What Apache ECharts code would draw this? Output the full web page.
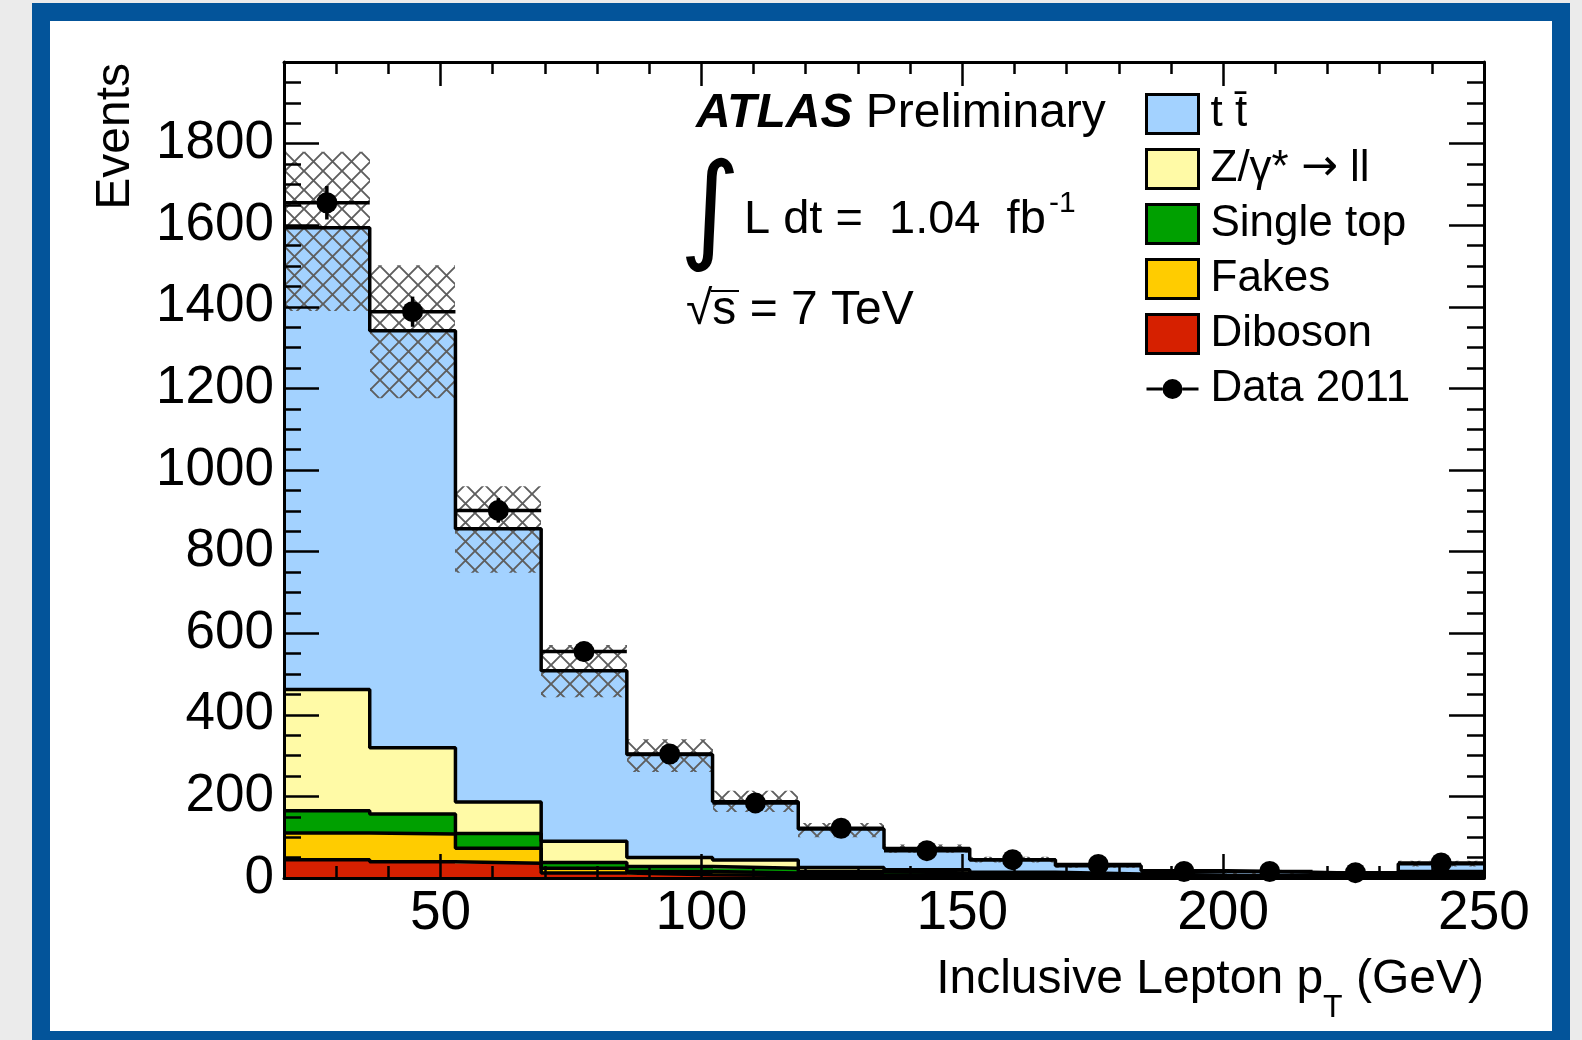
<!DOCTYPE html>
<html><head><meta charset="utf-8">
<script src="https://cdn.jsdelivr.net/npm/echarts@6/dist/echarts.min.js"></script>
<style>
html,body{margin:0;padding:0;width:1582px;height:1040px;overflow:hidden;background:#ebebeb;}
#frame{position:absolute;left:32px;top:3px;width:1538px;height:1046px;box-sizing:border-box;border:18px solid #03549a;background:#fff;}
#chart{position:absolute;left:0;top:0;width:1582px;height:1040px;}
</style></head><body><div id="frame"></div><div id="chart"></div>
<script>
const F = "'Liberation Sans', Arial, Helvetica, sans-serif";

// ---- data ----
const binEdges   = [20, 36.43, 52.86, 69.29, 85.71, 102.14, 118.57, 135, 151.43, 167.86, 184.29, 200.71, 217.14, 233.57, 250];
const diboson    = [45, 40, 36, 12, 8, 6, 4, 3, 2, 1.5, 1, 1, 0.5, 2];
const fakes      = [65, 68, 37, 12, 8, 6, 4, 3, 2, 1.5, 1, 1, 0.5, 2];
const singleTop  = [55, 49, 36, 14, 12, 12, 8, 6, 4, 3, 2, 1.5, 1, 4];
const zjets      = [297, 162, 77, 52, 22, 20, 10, 8, 6, 4, 3, 2.5, 2, 8];
const ttbar      = [1132, 1022, 670, 418, 253, 143, 94, 52, 31, 20, 11, 8, 6, 19];
const data2011   = [1655, 1388, 901, 555, 304, 184, 122, 67, 45, 33, 16, 16, 13, 37];
const dataErr    = [41, 37, 30, 24, 17, 14, 11, 8, 7, 6, 4, 4, 4, 6];
const bandLow    = [1390, 1176, 748, 443, 260, 162, 100, 62, 38, 25, 14, 10, 7, 28];
const bandHigh   = [1780, 1502, 960, 571, 340, 214, 135, 82, 52, 35, 22, 18, 13, 42];
const xMajorTicks = [50, 100, 150, 200, 250];

const ZNAME = 'Z/γ* → ll';
const TTNAME = 't t\u0304';
const layers = [
  {name: 'Diboson',    values: diboson,   color: '#d62000'},
  {name: 'Fakes',      values: fakes,     color: '#ffcc00'},
  {name: 'Single top', values: singleTop, color: '#00a000'},
  {name: ZNAME,        values: zjets,     color: '#fffaa6'},
  {name: TTNAME,       values: ttbar,     color: '#a3d2ff'}
];

// cumulative stack
let prev = binEdges.slice(0, -1).map(() => 0);
layers.forEach(l => {
  l.low = prev.slice();
  l.high = prev.map((p, i) => p + l.values[i]);
  prev = l.high;
});

// hatch pattern
const hatch = document.createElement('canvas');
hatch.width = 19; hatch.height = 19;
const g = hatch.getContext('2d');
g.strokeStyle = '#5e5e5e'; g.lineWidth = 1.9;
g.beginPath();
g.moveTo(-3, -3); g.lineTo(22, 22);
g.moveTo(22, -3); g.lineTo(-3, 22);
g.stroke();

function rectRender(fillFn) {
  return function (params, api) {
    const p0 = api.coord([api.value(0), api.value(3)]);
    const p1 = api.coord([api.value(1), api.value(2)]);
    const x0 = Math.round(p0[0]), x1 = Math.round(p1[0]);
    return {
      type: 'rect',
      shape: {x: x0, y: p0[1], width: x1 - x0, height: p1[1] - p0[1]},
      style: {fill: fillFn ? fillFn() : api.visual('color')}
    };
  };
}

const series = [];
layers.forEach(l => {
  series.push({
    name: l.name, type: 'custom', renderItem: rectRender(), clip: true, z: 2,
    itemStyle: {color: l.color},
    encode: {x: [0, 1], y: [2, 3]},
    data: l.values.map((v, i) => [binEdges[i], binEdges[i + 1], l.low[i], l.high[i]])
  });
});
series.push({
  name: 'uncertainty', type: 'custom', renderItem: rectRender(() => ({image: hatch, repeat: 'repeat'})),
  clip: true, z: 3, silent: true,
  encode: {x: [0, 1], y: [2, 3]},
  data: bandLow.map((v, i) => [binEdges[i], binEdges[i + 1], bandLow[i], bandHigh[i]])
});
layers.forEach(l => {
  const pts = l.high.map((v, i) => [binEdges[i], v]);
  pts.push([binEdges[binEdges.length - 1], l.high[l.high.length - 1]]);
  series.push({
    name: 'outline ' + l.name, type: 'line', step: 'end', symbol: 'none', z: 4, silent: true,
    lineStyle: {color: '#000', width: 3.5}, data: pts, clip: true
  });
});
series.push({
  name: 'Data 2011 errors', type: 'custom', z: 5, silent: true, clip: true,
  encode: {x: [0, 1, 2], y: [3, 4, 5]},
  data: data2011.map((v, i) => [binEdges[i], binEdges[i + 1], (binEdges[i] + binEdges[i + 1]) / 2, v, v - dataErr[i], v + dataErr[i]]),
  renderItem: function (params, api) {
    const a = api.coord([api.value(0), api.value(3)]);
    const b = api.coord([api.value(1), api.value(3)]);
    const c = api.coord([api.value(2), api.value(4)]);
    const d = api.coord([api.value(2), api.value(5)]);
    const st = {stroke: '#000', lineWidth: 3.5};
    return {type: 'group', children: [
      {type: 'line', shape: {x1: a[0], y1: a[1], x2: b[0], y2: b[1]}, style: st},
      {type: 'line', shape: {x1: c[0], y1: c[1], x2: d[0], y2: d[1]}, style: st}
    ]};
  }
});
series.push({
  name: 'Data 2011', type: 'scatter', z: 6, symbol: 'circle', symbolSize: 21,
  itemStyle: {color: '#000', opacity: 1},
  data: data2011.map((v, i) => [(binEdges[i] + binEdges[i + 1]) / 2, v])
});

const tickStyle = {color: '#000', width: 2.5};
const xBase = {type: 'value', min: 20, max: 250, z: 10, splitLine: {show: false}};
const yBase = {type: 'value', min: 0, max: 2000, interval: 200, z: 10, splitLine: {show: false}, minorSplitLine: {show: false},
  axisLine: {show: true, lineStyle: {color: '#000', width: 3}},
  axisTick: {show: true, inside: true, length: 35, lineStyle: tickStyle},
  minorTick: {show: true, splitNumber: 4, length: 17, lineStyle: tickStyle}};

const option = {
  animation: false,
  backgroundColor: 'transparent',
  grid: {left: 284, right: 98, top: 62, bottom: 162},
  xAxis: [
    Object.assign({}, xBase, {position: 'bottom',
      axisLine: {show: true, onZero: false, lineStyle: {color: '#000', width: 3}},
      axisTick: {show: true, inside: true, length: 24, lineStyle: tickStyle, customValues: xMajorTicks},
      axisLabel: {show: true, customValues: xMajorTicks, fontSize: 55, margin: 8, color: '#000', fontFamily: F,
        formatter: v => String(v)},
      name: '{a|Inclusive Lepton p}{s|T}{a| (GeV)}', nameLocation: 'end', nameGap: 0,
      nameTextStyle: {align: 'right', verticalAlign: 'top', padding: [78, 0, 0, 0], color: '#000', fontFamily: F,
        rich: {a: {fontSize: 48, lineHeight: 56, verticalAlign: 'top', fontFamily: F, color: '#000'},
               s: {fontSize: 32, lineHeight: 32, padding: [36, 0, 0, 0], verticalAlign: 'top', fontFamily: F, color: '#000'}}}}),
    Object.assign({}, xBase, {position: 'bottom', interval: 10,
      axisLine: {show: false, onZero: false},
      axisTick: {show: true, inside: true, length: 12, lineStyle: tickStyle},
      axisLabel: {show: false}}),
    Object.assign({}, xBase, {position: 'top',
      axisLine: {show: true, onZero: false, lineStyle: {color: '#000', width: 3}},
      axisTick: {show: true, inside: true, length: 24, lineStyle: tickStyle, customValues: xMajorTicks},
      axisLabel: {show: false}}),
    Object.assign({}, xBase, {position: 'top', interval: 10,
      axisLine: {show: false, onZero: false},
      axisTick: {show: true, inside: true, length: 12, lineStyle: tickStyle},
      axisLabel: {show: false}})
  ],
  yAxis: [
    Object.assign({}, yBase, {position: 'left',
      axisLabel: {show: true, fontSize: 53, margin: 10, color: '#000', fontFamily: F, showMaxLabel: false,
        formatter: v => String(v)}}),
    Object.assign({}, yBase, {position: 'right', axisLabel: {show: false}})
  ],
  legend: {
    orient: 'vertical', left: 1145, top: 92, itemWidth: 52, itemHeight: 39, itemGap: 11,
    icon: 'rect', selectedMode: false, padding: 0,
    itemStyle: {borderColor: '#000', borderWidth: 3},
    formatter: name => name === ZNAME ? 'Z/γ* {r|→} ll' : name,
    textStyle: {fontSize: 44, fontFamily: F, color: '#000', lineHeight: 39, padding: [0, 0, 0, 7],
      rich: {r: {fontSize: 44, fontFamily: "'DejaVu Sans'", color: '#000', lineHeight: 39}}},
    data: [
      {name: TTNAME}, {name: ZNAME}, {name: 'Single top'}, {name: 'Fakes'}, {name: 'Diboson'},
      {name: 'Data 2011', icon: 'path://M0,0M52,39M0,18H16V21H0ZM36,18H52V21H36ZM36,19.5A10,10,0,1,1,16,19.5A10,10,0,1,1,36,19.5Z',
       itemStyle: {color: '#000', borderWidth: 0, opacity: 1}}
    ]
  },
  graphic: [
    {type: 'text', x: 116, y: 63, rotation: Math.PI / 2,
     style: {text: 'Events', fontSize: 48, fontFamily: F, fill: '#000', align: 'right', verticalAlign: 'middle'}},
    {type: 'text', x: 696, y: 114,
     style: {text: '{b|ATLAS} {n|Preliminary}', fontSize: 48, fontFamily: F, fill: '#000', align: 'left', verticalAlign: 'middle',
       rich: {b: {fontSize: 48, fontWeight: 'bold', fontStyle: 'italic', fontFamily: F, fill: '#000'},
              n: {fontSize: 48, fontFamily: F, fill: '#000'}}}},
    {type: 'text', x: 710, y: 216,
     style: {text: '∫', fontSize: 118, fontFamily: "'DejaVu Sans'", fill: '#000', align: 'center', verticalAlign: 'middle'}},
    {type: 'text', x: 744, y: 220,
     style: {text: 'L dt =  1.04  fb', fontSize: 47, fontFamily: F, fill: '#000', align: 'left', verticalAlign: 'middle'}},
    {type: 'text', x: 1049, y: 204,
     style: {text: '-1', fontSize: 30, fontFamily: F, fill: '#000', align: 'left', verticalAlign: 'middle'}},
    {type: 'text', x: 686, y: 311,
     style: {text: '√s = 7 TeV', fontSize: 48, fontFamily: F, fill: '#000', align: 'left', verticalAlign: 'middle'}},
    {type: 'line', shape: {x1: 711, y1: 291, x2: 739, y2: 291}, style: {stroke: '#000', lineWidth: 2}}
  ],
  series: series
};
const chart = echarts.init(document.getElementById('chart'), null, {renderer: 'canvas'});
chart.setOption(option);
</script>
</body></html>
